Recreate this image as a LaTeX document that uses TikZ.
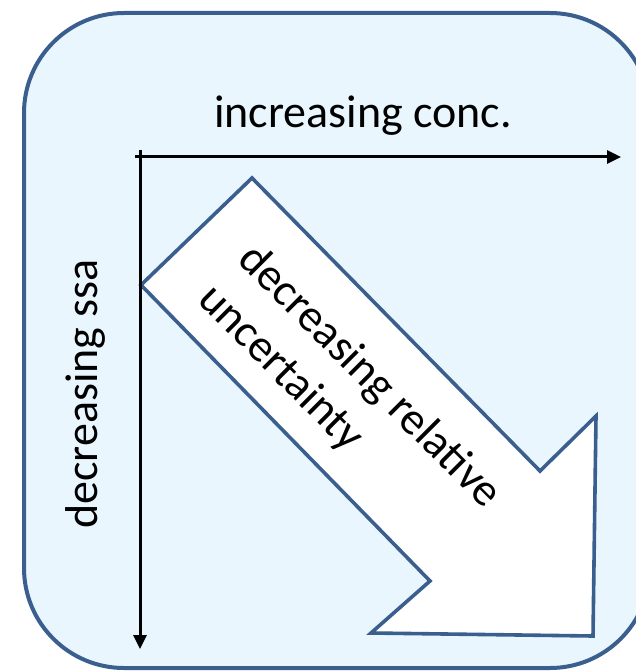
\documentclass[tikz,border=0pt]{standalone}
\usepackage{fontspec}
\setmainfont{Carlito}
\usetikzlibrary{arrows.meta}
\definecolor{frameblue}{HTML}{3A5F8E}
\definecolor{panelfill}{HTML}{EAF6FD}
\tikzset{
  panel/.style={draw=frameblue, line width=4pt, fill=panelfill, rounded corners=100pt},
  axis/.style={draw=black, line width=3pt, -{Triangle[length=14pt,width=13pt]}},
  bigarrow/.style={draw=frameblue, line width=3.6pt, fill=white, line join=miter},
  lbl/.style={font=\fontsize{46}{56}\selectfont, inner sep=0pt, text=black}
}
\begin{document}
\begin{tikzpicture}[x=1pt,y=-1pt]
\useasboundingbox (0,0) rectangle (635,671);
\path[panel] (24,13) rectangle (650,668);
% big diagonal arrow
\coordinate (p1) at (252,178);
\coordinate (p2) at (540,471);
\coordinate (p3) at (596,416);
\coordinate (p4) at (593,636);
\coordinate (p5) at (371,633);
\coordinate (p6) at (430,581);
\coordinate (p7) at (141,285);
\path[bigarrow] (p1) -- (p2) -- (p3) -- (p4) -- (p5) -- (p6) -- (p7) -- cycle;
% axes
\coordinate (hs) at (135,157);
\coordinate (he) at (621,157);
\coordinate (vs) at (140,150);
\coordinate (ve) at (140,649);
\draw[axis] (hs) -- (he);
\draw[axis] (vs) -- (ve);
% labels
\node[lbl, anchor=base] (conc) at (363,128) {increasing conc.};
\node[lbl, anchor=base, rotate=90] (ssa) at (97,394) {decreasing ssa};
\node[lbl, rotate=-45, align=left, font=\fontsize{46}{57}\selectfont] (unc) at (349,397) {decreasing relative\\uncertainty};
\end{tikzpicture}
\end{document}
